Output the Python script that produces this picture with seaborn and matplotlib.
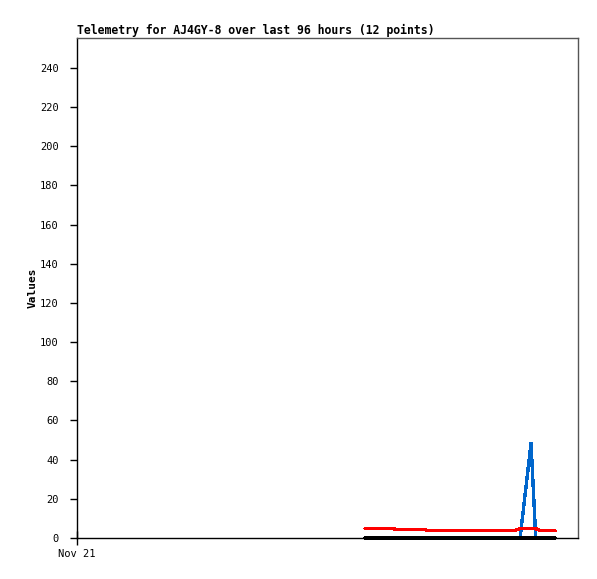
import matplotlib
matplotlib.use("Agg")
import matplotlib.pyplot as plt
import seaborn as sns
import pandas as pd

# hours since start of the 96-hour window (Nov 21 at 0)
hours = [55.2, 60.7, 61.3, 66.7, 67.3, 83.7, 84.9, 87.0, 87.9, 88.9, 89.5, 91.6]
series_blue = [0, 0, 0, 0, 0, 0, 0, 48.4, 0, 0, 0, 0]
series_black = [0, 0, 0, 0, 0, 0, 0, 0, 0, 0, 0, 0]
series_red = [4.75, 4.75, 4.2, 4.2, 3.7, 3.7, 4.75, 4.75, 4.75, 3.7, 3.7, 3.7]
y_ticks = list(range(0, 241, 20))
x_tick_labels = ["Nov 21"]
title = "Telemetry for AJ4GY-8 over last 96 hours (12 points)"

sns.set_style("white")
plt.rcParams["font.family"] = ["DejaVu Sans Mono"]
plt.rcParams["text.color"] = "black"
plt.rcParams["axes.labelcolor"] = "black"
plt.rcParams["xtick.color"] = "black"
plt.rcParams["ytick.color"] = "black"

fig = plt.figure(figsize=(5.97, 5.79), dpi=100)
ax = fig.add_axes([77/597, 41/579, 501/597, 500/579])

for vals, col in [(series_blue, "#0066cc"), (series_black, "#000000"), (series_red, "#ff0000")]:
    d = pd.DataFrame({"h": hours, "v": vals})
    sns.lineplot(data=d, x="h", y="v", color=col, linewidth=1.7, ax=ax, clip_on=False,
                 estimator=None, sort=False, antialiased=False)

ax.set_xlim(0, 96)
ax.set_ylim(0, 255.3)
ax.set_yticks(y_ticks)
ax.set_yticklabels([str(t) for t in y_ticks], fontsize=7.5)
ax.set_xticks([0])
ax.set_xticklabels(x_tick_labels, fontsize=7.5)
ax.tick_params(axis="y", direction="out", length=5, width=1, color="black", pad=8, left=True)
ax.tick_params(axis="x", direction="inout", length=10, width=1, color="black", pad=3, bottom=True)
ax.set_xlabel("")
ax.set_ylabel("Values", fontsize=8, fontweight="bold", labelpad=2)
ax.set_title(title, loc="left", fontsize=8.3, fontweight="bold", pad=3, color="black")

for side in ["left", "bottom"]:
    ax.spines[side].set_color("black")
    ax.spines[side].set_linewidth(1)
for side in ["top", "right"]:
    ax.spines[side].set_color("#555555")
    ax.spines[side].set_linewidth(1)

fig.savefig("out.png", dpi=100)
